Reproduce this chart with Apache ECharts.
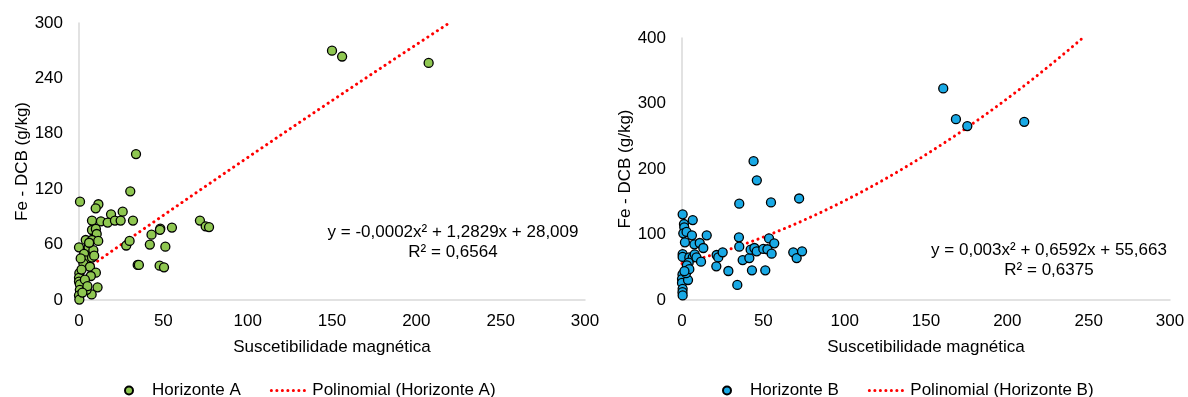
<!DOCTYPE html>
<html>
<head>
<meta charset="utf-8">
<script src="https://cdn.jsdelivr.net/npm/echarts@6/dist/echarts.min.js"></script>
<style>
  html, body { margin: 0; padding: 0; background: #fff; }
  #chart { width: 1188px; height: 397px; }
</style>
</head>
<body>
<div id="chart"></div>
<script>
// Horizonte A: susceptibilidade (x) e Fe-DCB (y)
const horizAX = [33.8, 30.4, 0.6, 11.5, 9.9, 19, 25.9, 7.7, 13, 17, 21.3, 24.7, 32, 7.7, 10, 10.5, 4, 7.7, 11.4, 0, 5.7, 8.5, 3, 4, 7.7, 2.6, 6.5, 10, 0.2, 7, 2.6, 0, 0, 0.5, 11, 7.5, 0.5, 0, 0.2, 4.5, 28, 30, 43, 42, 48.2, 48, 55.1, 51.2, 34.8, 35.5, 47.8, 50.4, 71.7, 75.1, 77.1, 150, 156, 207.3, 1.5, 3.5, 5, 2, 6, 9, 1];
const horizAY = [158, 117.7, 106.5, 103.7, 99.3, 92.8, 95.7, 86, 85.2, 83.8, 86, 86, 86, 75.8, 77, 71.5, 65, 65, 64, 57, 57, 54, 50, 43, 46, 39.7, 36, 29.6, 29, 26, 18, 24, 20, 17, 13.7, 6, 11, 5, 0.5, 11, 59, 64, 70.8, 60, 77.3, 76, 78.4, 57.8, 38, 38, 37.2, 35.4, 86, 79.8, 79, 270, 263.7, 256.8, 33, 22, 15, 8, 62, 48, 45];

// Horizonte B
const horizBX = [44, 46, 35.2, 54.7, 72, 0.4, 1.2, 1.4, 6.6, 0.8, 2.8, 6.1, 15.2, 1.8, 7.6, 10.9, 13.1, 35, 35.2, 53.5, 56.7, 0.4, 0.4, 4.5, 6.6, 7.8, 8.9, 11.7, 4.1, 3, 21.3, 22.3, 25, 21.1, 28.5, 34, 37.3, 41.4, 42.2, 44.5, 45.9, 43, 50, 52.5, 55.1, 51.2, 68.4, 70.5, 73.8, 0.3, 0, 0, 0.4, 0.3, 0.4, 3.7, 2.5, 4.5, 1.5, 160.6, 168.4, 175.4, 210.4];
const horizBY = [212, 182.7, 147, 149, 155, 130.8, 116, 111, 122, 101.8, 104, 98.7, 98.7, 88, 85, 87, 79.4, 95.7, 81.4, 94, 86.5, 70, 65.8, 65, 65, 69.7, 65, 58.5, 57, 53, 68.7, 65, 72.8, 51.4, 44.3, 23, 61, 64, 76.8, 79.4, 74.3, 45.3, 78, 77.5, 70.7, 45.3, 72.8, 64, 74.3, 39, 32, 26, 17, 12, 7, 30.5, 41, 47, 44, 323, 276, 265.6, 272];

// coeficientes das linhas de tendência (a x² + b x + c), tal como no gráfico
const trendA = [-0.0002, 1.2829, 28.009];
const trendB = [0.003, 0.6592, 55.663];
const trendARange = [0, 219.5];
const trendBRange = [0, 246.3];

const xTicks = [0, 50, 100, 150, 200, 250, 300];
const yTicksA = [0, 60, 120, 180, 240, 300];
const yTicksB = [0, 100, 200, 300, 400];

const font = '"Liberation Sans", Arial, sans-serif';
const fs = 17;

function pairs(xs, ys) {
  return xs.map((x, i) => [x, ys[i]]);
}
// amostra a polinomial da linha de tendência
function trendPoints(c, range) {
  const pts = [];
  const n = 60;
  for (let i = 0; i <= n; i++) {
    const x = range[0] + (range[1] - range[0]) * i / n;
    pts.push([x, c[0] * x * x + c[1] * x + c[2]]);
  }
  return pts;
}

function xAxisCfg(idx) {
  return {
    type: 'value', gridIndex: idx,
    min: xTicks[0], max: xTicks[xTicks.length - 1], interval: 50,
    name: 'Suscetibilidade magnética', nameLocation: 'middle', nameGap: 39,
    nameTextStyle: { fontSize: fs, color: '#000', fontFamily: font },
    axisLine: { show: true, lineStyle: { color: '#d9d9d9', width: 1.5 } },
    axisTick: { show: false },
    splitLine: { show: false },
    axisLabel: { fontSize: fs, color: '#000', margin: 13, fontFamily: font }
  };
}
function yAxisCfg(idx, ticks) {
  return {
    type: 'value', gridIndex: idx,
    min: 0, max: ticks[ticks.length - 1], interval: ticks[1] - ticks[0],
    name: 'Fe - DCB (g/kg)', nameLocation: 'middle', nameGap: 46,
    nameTextStyle: { fontSize: fs, color: '#000', fontFamily: font },
    axisLine: { show: true, lineStyle: { color: '#d9d9d9', width: 1.5 } },
    axisTick: { show: false },
    splitLine: { show: false },
    axisLabel: { fontSize: fs, color: '#000', margin: 16, fontFamily: font }
  };
}

const chart = echarts.init(document.getElementById('chart'));

const trendStyle = { color: '#ff0000', width: 3, type: [0.1, 5.6], cap: 'round' };
const legendTrendItem = name => ({
  name: name,
  itemStyle: { color: 'rgba(0,0,0,0)', borderWidth: 0 },
  lineStyle: { color: '#ff0000', width: 3, type: [0.1, 5.4], cap: 'round' }
});

chart.setOption({
  animation: false,
  textStyle: { fontFamily: font },
  grid: [
    { left: 79, top: 23, width: 506, height: 277 },
    { left: 682, top: 38, width: 488, height: 262 }
  ],
  xAxis: [xAxisCfg(0), xAxisCfg(1)],
  yAxis: [yAxisCfg(0, yTicksA), yAxisCfg(1, yTicksB)],
  legend: [
    {
      left: 119, top: 377, itemWidth: 36, itemHeight: 8, itemGap: 29,
      textStyle: { fontSize: fs, color: '#000', fontFamily: font },
      data: ['Horizonte A', legendTrendItem('Polinomial (Horizonte A)')]
    },
    {
      left: 717, top: 377, itemWidth: 36, itemHeight: 8, itemGap: 29,
      textStyle: { fontSize: fs, color: '#000', fontFamily: font },
      data: ['Horizonte B', legendTrendItem('Polinomial (Horizonte B)')]
    }
  ],
  series: [
    {
      name: 'Horizonte A', type: 'scatter', xAxisIndex: 0, yAxisIndex: 0,
      symbolSize: 9,
      itemStyle: { color: '#8fc751', borderColor: '#000', borderWidth: 1.3, opacity: 1 },
      data: pairs(horizAX, horizAY), z: 3
    },
    {
      name: 'Polinomial (Horizonte A)', type: 'line', xAxisIndex: 0, yAxisIndex: 0,
      showSymbol: false, symbol: 'none', clip: true,
      lineStyle: trendStyle, itemStyle: { color: '#ff0000' },
      data: trendPoints(trendA, trendARange), z: 2
    },
    {
      name: 'Horizonte B', type: 'scatter', xAxisIndex: 1, yAxisIndex: 1,
      symbolSize: 9,
      itemStyle: { color: '#19a9e5', borderColor: '#000', borderWidth: 1.3, opacity: 1 },
      data: pairs(horizBX, horizBY), z: 3
    },
    {
      name: 'Polinomial (Horizonte B)', type: 'line', xAxisIndex: 1, yAxisIndex: 1,
      showSymbol: false, symbol: 'none', clip: true,
      lineStyle: trendStyle, itemStyle: { color: '#ff0000' },
      data: trendPoints(trendB, trendBRange), z: 2
    }
  ],
  graphic: [
    {
      type: 'text', x: 453, y: 222,
      style: {
        text: 'y = -0,0002x² + 1,2829x + 28,009\nR² = 0,6564',
        font: fs + 'px ' + font, fill: '#000', align: 'center', lineHeight: 20
      }
    },
    {
      type: 'text', x: 1049, y: 240,
      style: {
        text: 'y = 0,003x² + 0,6592x + 55,663\nR² = 0,6375',
        font: fs + 'px ' + font, fill: '#000', align: 'center', lineHeight: 20
      }
    }
  ]
});
</script>
</body>
</html>
